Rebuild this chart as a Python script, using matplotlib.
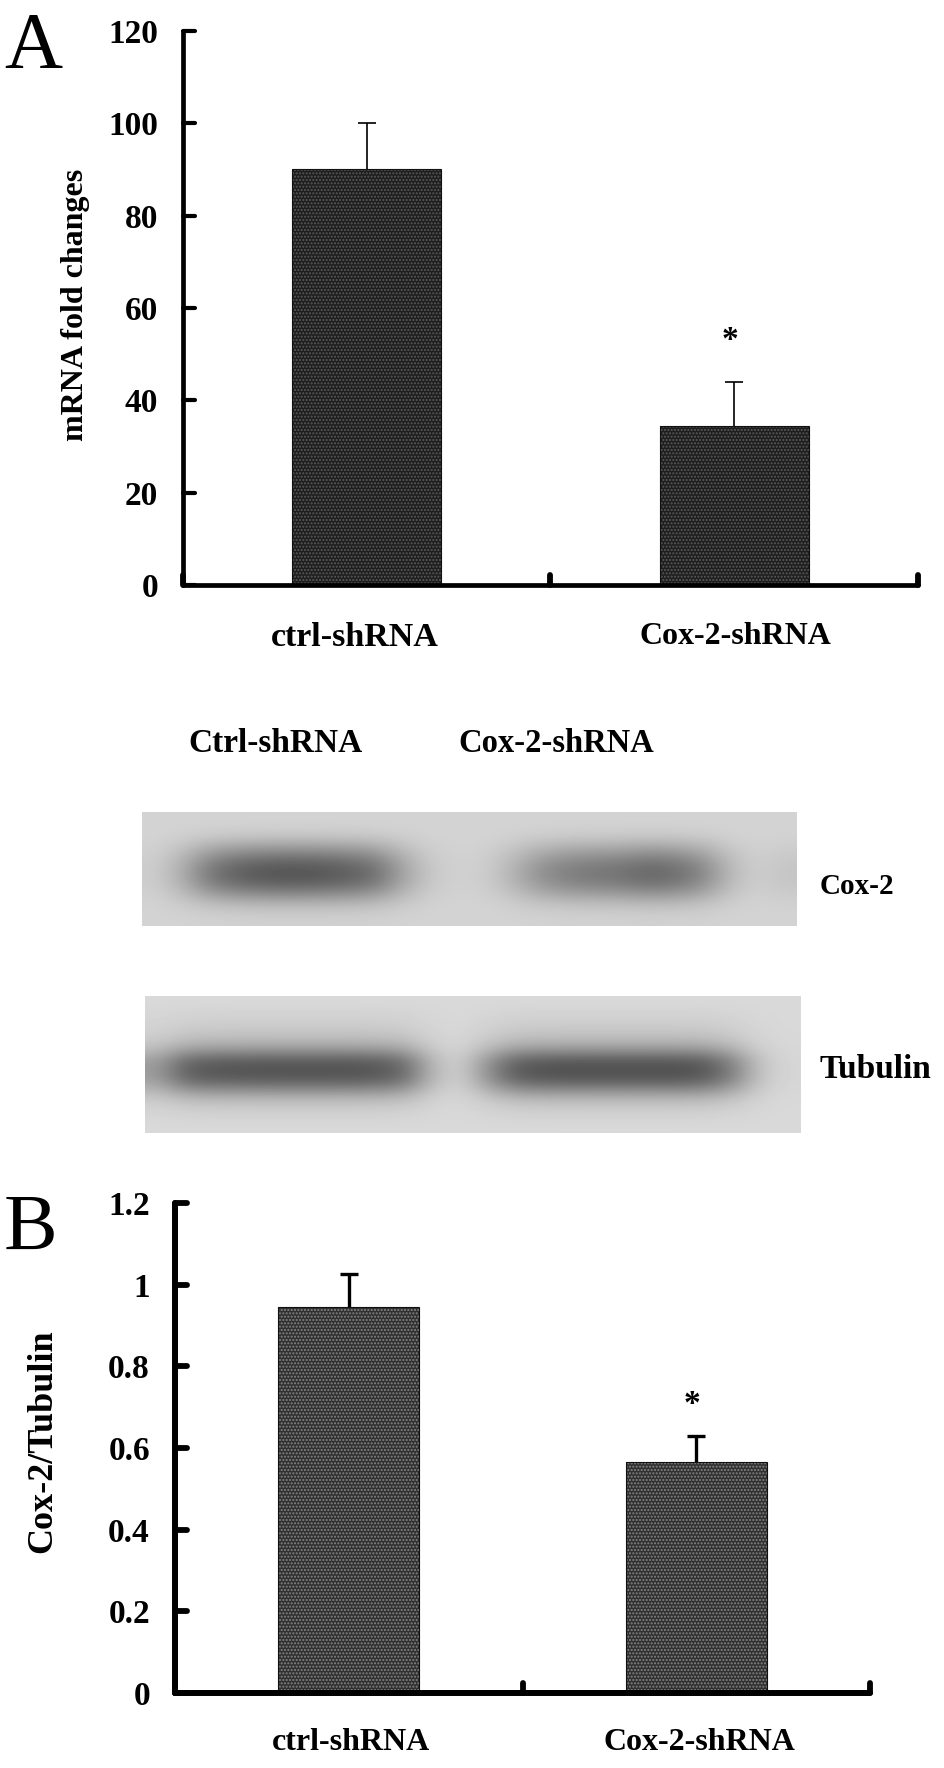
import matplotlib
matplotlib.use('Agg')
import matplotlib.pyplot as plt
import matplotlib.markers as mmarkers
from matplotlib.markers import MarkerStyle
import numpy as np

W, H = 945, 1768

plt.rcParams['font.family'] = ['Liberation Serif', 'DejaVu Serif']
plt.rcParams['font.weight'] = 'bold'

categories = ['ctrl-shRNA', 'Cox-2-shRNA']

# panel A
mrna_values = [90, 34.5]
mrna_err = [10, 9.5]
mrna_ticks = [0, 20, 40, 60, 80, 100, 120]

# panel B
ratio_values = [0.945, 0.565]
ratio_err = [0.08, 0.065]
ratio_ticks = [0, 0.2, 0.4, 0.6, 0.8, 1, 1.2]
ratio_labels = ['0', '0.2', '0.4', '0.6', '0.8', '1', '1.2']

# blot darkness read along and across the bands
cox_x = [0.05, 0.30, 0.72, 0.90, 0.98, 1.0, 0.98, 0.92, 0.80, 0.40, 0.10, 0.02,
         0.04, 0.22, 0.50, 0.65, 0.72, 0.75, 0.85, 0.80, 0.62, 0.22, 0.04, 0.12]
cox_y = [0, 0.03, 0.12, 0.38, 0.68, 0.92, 1.0, 0.9, 0.62, 0.3, 0.1, 0.03]
tub_x = [0.45, 0.88, 0.95, 0.97, 0.98, 0.98, 0.98, 0.98, 0.95, 0.82, 0.25, 0.05,
         0.50, 0.9, 0.98, 1.0, 1.0, 1.0, 1.0, 1.0, 0.95, 0.65, 0.15, 0.02]
tub_y = [0, 0.03, 0.07, 0.13, 0.24, 0.5, 0.88, 1, 0.92, 0.6, 0.26, 0.1, 0.03, 0]

fig = plt.figure(figsize=(W / 100, H / 100), dpi=100)


def px_axes(left, top, right, bottom):
    return fig.add_axes([left / W, 1 - bottom / H, (right - left) / W, (bottom - top) / H])


def px_text(x, y, s, **kw):
    kw.setdefault('ha', 'center')
    kw.setdefault('va', 'center')
    fig.text(x / W, 1 - y / H, s, color='black', **kw)


def bar_panel(ax, values, err, ymax, ticks, labels, fill, dots, spine_w, tick_w, err_w, fs):
    x = [0.5, 1.5]
    ax.bar(x, values, width=0.405, color=fill, edgecolor='none', zorder=2)
    # stipple on top of the fill
    ax.bar(x, values, width=0.405, facecolor='none', edgecolor=dots, linewidth=0, hatch='.....', zorder=3)
    ax.bar(x, values, width=0.405, facecolor='none', edgecolor='#111111', linewidth=0.8, zorder=4)
    _, caps, _ = ax.errorbar(x, values, yerr=[[0, 0], err], fmt='none', ecolor='black',
                             elinewidth=err_w, capsize=6.5, capthick=err_w, zorder=1)
    caps[0].set_visible(False)  # only the upper cap shows
    ax.set_xlim(0, 2)
    ax.set_ylim(0, ymax)
    ax.set_xticks([0, 1, 2])
    ax.set_xticklabels([])
    ax.set_yticks(ticks)
    ax.set_yticklabels(labels, fontsize=fs, fontweight='bold')
    ax.tick_params(axis='y', direction='in', length=8.5, width=tick_w, pad=18)
    ax.tick_params(axis='x', direction='in', length=7, width=4.2)
    for s in ['top', 'right']:
        ax.spines[s].set_visible(False)
    for s in ['left', 'bottom']:
        ax.spines[s].set_linewidth(spine_w)
        ax.spines[s].set_capstyle('round')
        ax.spines[s].set_zorder(5)
    for t in ax.yaxis.get_major_ticks():
        t.tick1line.set_marker(MarkerStyle(mmarkers.TICKRIGHT, capstyle='round'))
        t.tick1line.set_clip_on(False)
    for t in ax.xaxis.get_major_ticks():
        t.tick1line.set_marker(MarkerStyle(mmarkers.TICKUP, capstyle='round'))
        t.tick1line.set_clip_on(False)
    ax.patch.set_alpha(0)


def blot(left, top, right, bottom, prof_x, prof_y, bg, depth):
    ax = px_axes(left, top, right, bottom)
    img = bg - depth * np.outer(prof_y, prof_x)
    ax.imshow(img, cmap='gray', vmin=0, vmax=1, aspect='auto', interpolation='bicubic')
    ax.axis('off')


# panel A
ax_a = px_axes(183, 31, 918, 585)
bar_panel(ax_a, mrna_values, mrna_err, 120, mrna_ticks, [str(v) for v in mrna_ticks],
          '#1e1e1e', '#5a5a5a', 3.4, 3.0, 1.2, 24)
px_text(355, 637, categories[0], fontsize=24.5)
px_text(735, 637, categories[1], fontsize=23)
px_text(76, 305, 'mRNA fold changes', fontsize=23, rotation=90)
px_text(730, 341, '*', fontsize=24)
px_text(33, 48, 'A', fontsize=58, fontweight='normal')

# blots
px_text(276, 743, 'Ctrl-shRNA', fontsize=24)
px_text(556, 743, 'Cox-2-shRNA', fontsize=23.5)
blot(142, 812, 797, 926, cox_x, cox_y, 0.83, 0.50)
blot(145, 996, 801, 1133, tub_x, tub_y, 0.85, 0.54)
px_text(820, 886, 'Cox-2', fontsize=21, ha='left')
px_text(820, 1069, 'Tubulin', fontsize=24, ha='left')

# panel B
ax_b = px_axes(175, 1203, 870, 1693)
bar_panel(ax_b, ratio_values, ratio_err, 1.2, ratio_ticks, ratio_labels,
          '#303030', '#858585', 4.3, 4.2, 2.4, 24)
px_text(351, 1743, categories[0], fontsize=23)
px_text(699, 1743, categories[1], fontsize=23)
px_text(43, 1441, 'Cox-2/Tubulin', fontsize=26, rotation=90)
px_text(692, 1404, '*', fontsize=24)
px_text(30, 1230, 'B', fontsize=58, fontweight='normal')

fig.savefig('out.png', dpi=100, facecolor='white')
